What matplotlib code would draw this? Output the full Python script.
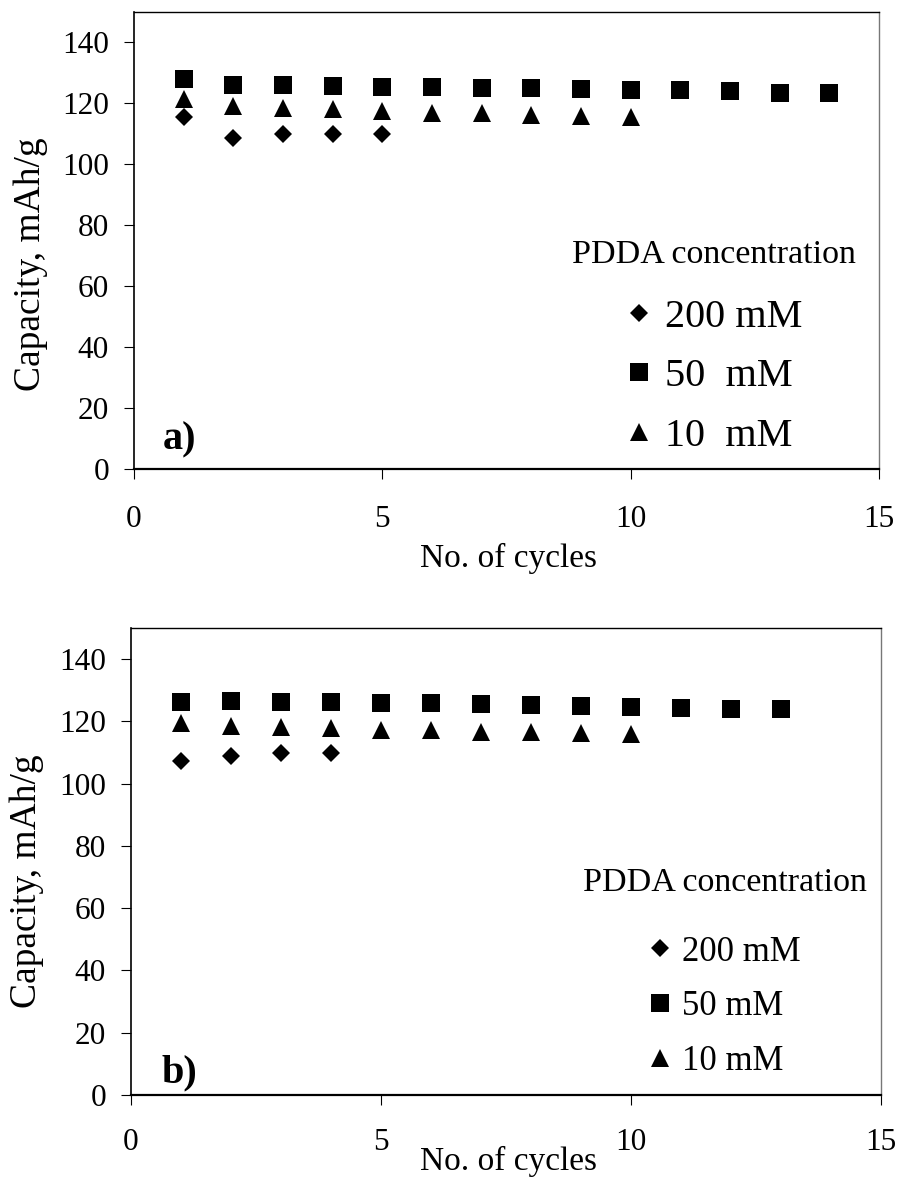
import matplotlib
matplotlib.use("Agg")
import matplotlib.pyplot as plt

plt.rcParams["font.family"] = ["Liberation Serif", "DejaVu Serif"]

# ---- data, panel a) ----
a_x200 = [1, 2, 3, 4, 5]
a_y200 = [115.7, 108.7, 109.8, 110.0, 110.0]
a_x50 = [1, 2, 3, 4, 5, 6, 7, 8, 9, 10, 11, 12, 13, 14]
a_y50 = [128.1, 126.2, 126.0, 125.7, 125.5, 125.3, 125.1, 124.9, 124.6, 124.5, 124.3, 124.0, 123.4, 123.4]
a_x10 = [1, 2, 3, 4, 5, 6, 7, 8, 9, 10]
a_y10 = [121.3, 119.1, 118.5, 118.0, 117.4, 117.0, 116.7, 116.3, 116.0, 115.7]

# ---- data, panel b) ----
b_x200 = [1, 2, 3, 4]
b_y200 = [107.3, 108.9, 109.7, 110.0]
b_x50 = [1, 2, 3, 4, 5, 6, 7, 8, 9, 10, 11, 12, 13]
b_y50 = [126.3, 126.5, 126.3, 126.2, 126.0, 126.0, 125.5, 125.3, 124.9, 124.6, 124.3, 124.1, 123.9]
b_x10 = [1, 2, 3, 4, 5, 6, 7, 8, 9, 10]
b_y10 = [119.4, 118.5, 118.3, 117.8, 117.2, 117.2, 116.7, 116.5, 116.2, 115.8]

x_ticks = [0, 5, 10, 15]
y_ticks = [0, 20, 40, 60, 80, 100, 120, 140]

fig = plt.figure(figsize=(9, 11.86), dpi=100, facecolor="white")


def panel(rect, series, labels, tag, tag_pos, leg_font, leg_anchor, leg_space, leg_sep,
          ylab_pos, xlab_pos, xpad):
    ax = fig.add_axes(rect)
    ms = {"D": 9.5, "s": 13.5, "^": 13.5}
    for (x, y, m), lab in zip(series, labels):
        ax.plot(x, y, linestyle="none", marker=m, markersize=ms[m], color="black",
                markeredgewidth=0, label=lab)
    ax.set_xlim(0, 15)
    ax.set_ylim(0, 150)
    ax.set_xticks(x_ticks)
    ax.set_yticks(y_ticks)
    ax.tick_params(axis="y", direction="out", length=7, width=0.8, labelsize=22.5, pad=11)
    ax.tick_params(axis="x", direction="out", length=7, width=0.8, labelsize=22.5, pad=xpad)
    ax.spines["bottom"].set_linewidth(1.6)
    ax.spines["left"].set_linewidth(1.2)
    ax.spines["top"].set_linewidth(1.0)
    ax.spines["right"].set_linewidth(1.0)
    ax.spines["right"].set_color("#777777")

    ax.set_ylabel("Capacity, mAh/g", fontsize=27)
    ax.yaxis.set_label_coords(*ylab_pos)
    ax.set_xlabel("No. of cycles", fontsize=24)
    ax.xaxis.set_label_coords(*xlab_pos)

    ax.text(tag_pos[0], tag_pos[1], tag, transform=ax.transAxes, fontsize=29,
            fontweight="bold", ha="left", va="baseline")

    leg = ax.legend(title="PDDA concentration", loc="center", bbox_to_anchor=leg_anchor,
                    frameon=False, fontsize=leg_font, title_fontsize=24.5,
                    handlelength=0.6, handletextpad=0.35, labelspacing=leg_space,
                    numpoints=1, borderpad=0)
    leg._legend_box.sep = leg_sep
    return ax


panel([134 / 900, 1 - 469 / 1186, 745 / 900, 457 / 1186],
      [(a_x200, a_y200, "D"), (a_x50, a_y50, "s"), (a_x10, a_y10, "^")],
      ["200 mM", "50  mM", "10  mM"], "a)", (0.038, 0.042), 29,
      (0.779, 0.267), 0.55, 21, (-0.115, 0.449), (0.503, -0.162), 19)

panel([131 / 900, 1 - 1095 / 1186, 750 / 900, 467 / 1186],
      [(b_x200, b_y200, "D"), (b_x50, b_y50, "s"), (b_x10, b_y10, "^")],
      ["200 mM", "50 mM", "10 mM"], "b)", (0.041, 0.026), 25,
      (0.792, 0.262), 0.62, 27, (-0.116, 0.457), (0.503, -0.109), 17)

fig.savefig("out.png", dpi=100, facecolor="white")
